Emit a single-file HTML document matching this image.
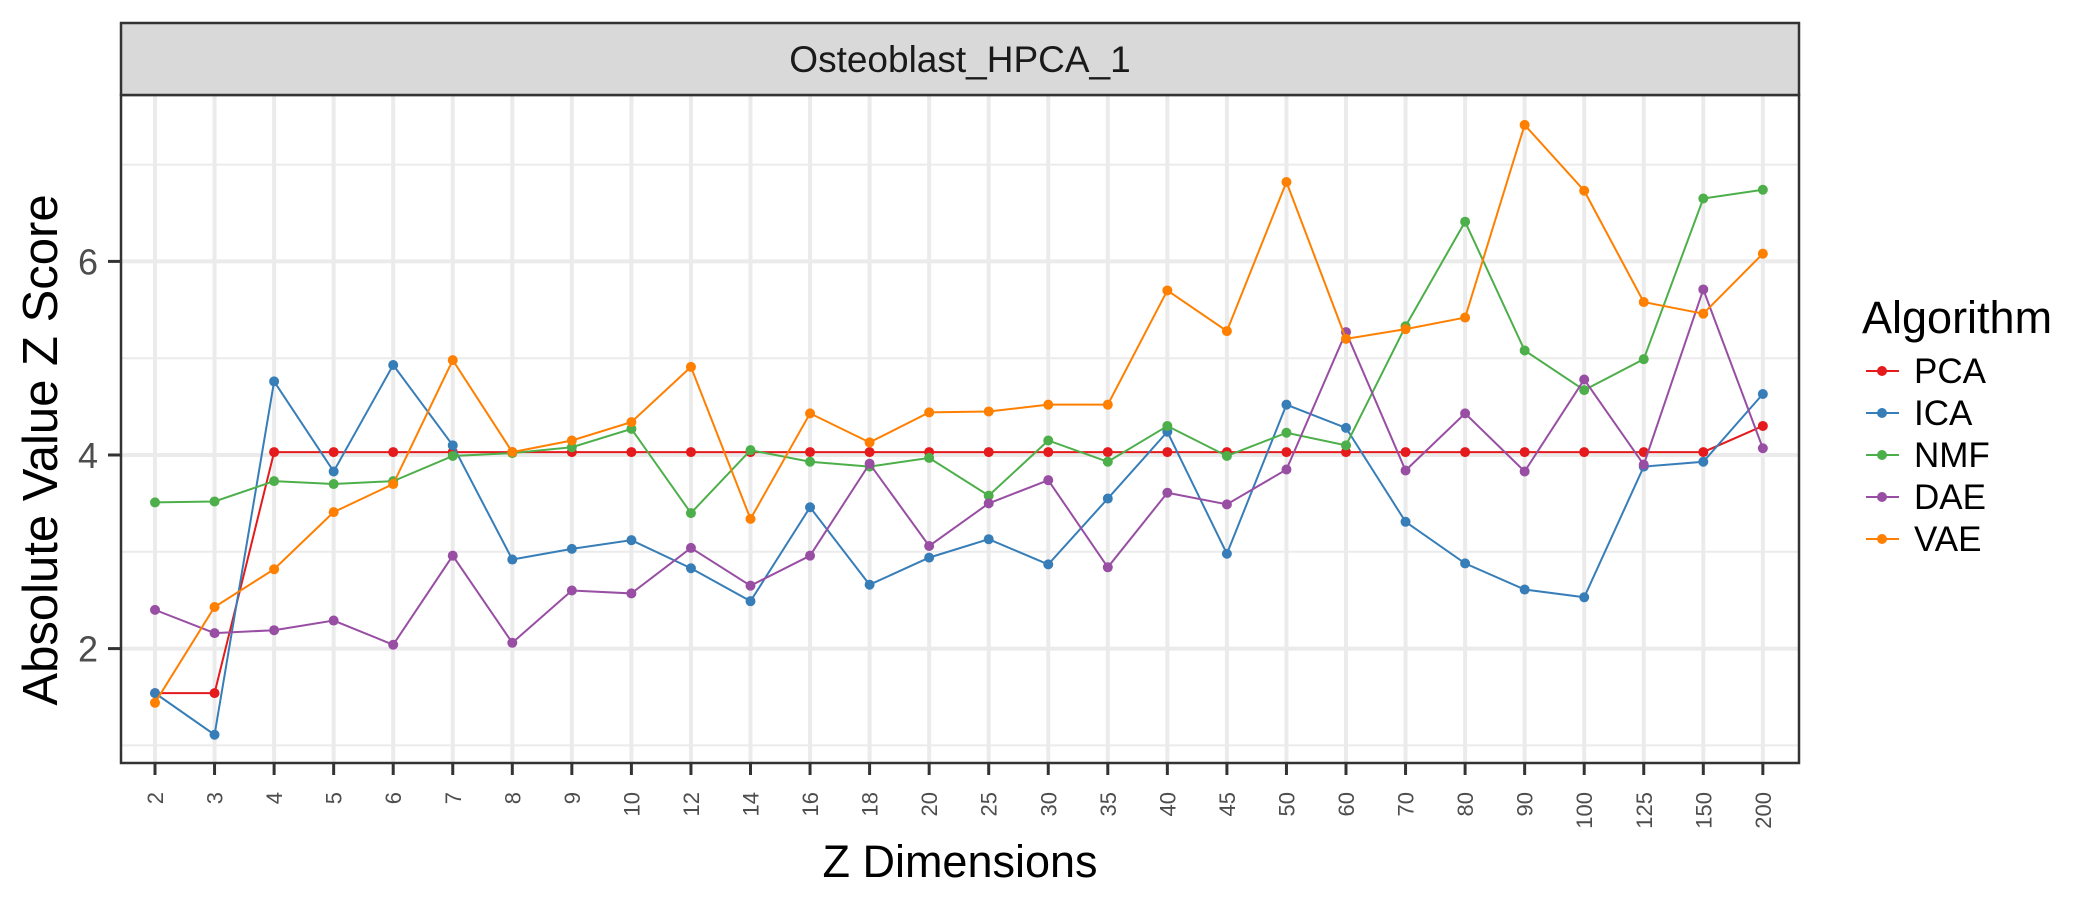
<!DOCTYPE html>
<html><head><meta charset="utf-8"><style>
html,body{margin:0;padding:0;background:#fff;}
svg{display:block;font-family:"Liberation Sans",Arial,sans-serif;}
</style></head><body>
<svg id="chart" width="2100" height="900" viewBox="0 0 2100 900" xmlns="http://www.w3.org/2000/svg">
<rect x="0" y="0" width="2100" height="900" fill="#fff"/>
<g id="grid"></g>
<g id="series"></g>
<rect x="121" y="95" width="1678" height="668" fill="none" stroke="#333" stroke-width="2.5"/>
<rect x="121" y="23" width="1678" height="72" fill="#d9d9d9" stroke="#333" stroke-width="2.5"/>
<text x="960" y="72" text-anchor="middle" font-size="37" fill="#1a1a1a">Osteoblast_HPCA_1</text>
<g id="axes"></g>
<text transform="translate(57,450) rotate(-90)" text-anchor="middle" font-size="49" fill="#000">Absolute Value Z Score</text>
<text x="960" y="877" text-anchor="middle" font-size="45" fill="#000">Z Dimensions</text>
<g id="legend">
<text x="1862" y="333" font-size="45" fill="#000">Algorithm</text>
</g>
</svg>
<script>
const categories = ["2","3","4","5","6","7","8","9","10","12","14","16","18","20","25","30","35","40","45","50","60","70","80","90","100","125","150","200"];
const seriesNames = ["PCA","ICA","NMF","DAE","VAE"];
const seriesColors = ["#e41a1c","#377eb8","#4daf4a","#984ea3","#ff7f00"];
const pcaValues = [1.54,1.54,4.03,4.03,4.03,4.03,4.03,4.03,4.03,4.03,4.03,4.03,4.03,4.03,4.03,4.03,4.03,4.03,4.03,4.03,4.03,4.03,4.03,4.03,4.03,4.03,4.03,4.3];
const icaValues = [1.54,1.11,4.76,3.83,4.93,4.1,2.92,3.03,3.12,2.83,2.49,3.46,2.66,2.94,3.13,2.87,3.55,4.24,2.98,4.52,4.28,3.31,2.88,2.61,2.53,3.88,3.93,4.63];
const nmfValues = [3.51,3.52,3.73,3.7,3.73,3.99,4.02,4.08,4.27,3.4,4.05,3.93,3.88,3.97,3.58,4.15,3.93,4.3,3.99,4.23,4.1,5.33,6.41,5.08,4.67,4.99,6.65,6.74];
const daeValues = [2.4,2.16,2.19,2.29,2.04,2.96,2.06,2.6,2.57,3.04,2.65,2.96,3.91,3.06,3.5,3.74,2.84,3.61,3.49,3.85,5.27,3.84,4.43,3.83,4.78,3.9,5.71,4.07];
const vaeValues = [1.44,2.43,2.82,3.41,3.7,4.98,4.03,4.15,4.34,4.91,3.34,4.43,4.13,4.44,4.45,4.52,4.52,5.7,5.28,6.82,5.2,5.3,5.42,7.41,6.73,5.58,5.46,6.08];
const yMajorTicks = [2,4,6];
const yMinorTicks = [1,3,5,7];

const NS = "http://www.w3.org/2000/svg";
const PL = 121, PR = 1799, PT = 95, PB = 763;
function xPos(i){ return 155 + i * 59.55; }
function yPos(v){ return 455 - (v - 4) * 96.8; }
function mk(tag, attrs, parent){
  const e = document.createElementNS(NS, tag);
  for (const k in attrs) e.setAttribute(k, attrs[k]);
  parent.appendChild(e);
  return e;
}
const grid = document.getElementById('grid');
const axes = document.getElementById('axes');
const seriesG = document.getElementById('series');
const legend = document.getElementById('legend');

yMinorTicks.forEach(v => {
  const l = mk('line', {x1:PL, x2:PR, y1:yPos(v), y2:yPos(v), stroke:'#ebebeb', 'stroke-width':2}, grid);
  
  
});
yMajorTicks.forEach(v => {
  const l = mk('line', {x1:PL, x2:PR, y1:yPos(v), y2:yPos(v), stroke:'#ebebeb', 'stroke-width':4}, grid);
  
  
  const t = mk('line', {x1:108, x2:PL, y1:yPos(v), y2:yPos(v), stroke:'#333', 'stroke-width':3}, axes);
  
  
  const tx = mk('text', {x:98, y:yPos(v)+13, 'text-anchor':'end', 'font-size':36, fill:'#4d4d4d'}, axes);
  tx.textContent = v;
  
  
});
categories.forEach((c, i) => {
  const x = xPos(i);
  const l = mk('line', {x1:x, x2:x, y1:PT, y2:PB, stroke:'#ebebeb', 'stroke-width':4}, grid);
  
  
  const t = mk('line', {x1:x, x2:x, y1:PB, y2:PB+12, stroke:'#333', 'stroke-width':3}, axes);
  
  
  const tx = mk('text', {transform:'translate(' + (x+8) + ',792) rotate(-90)', 'text-anchor':'end', 'font-size':22, fill:'#4d4d4d'}, axes);
  tx.textContent = c;
  
  
});

const allValues = [pcaValues, icaValues, nmfValues, daeValues, vaeValues];
allValues.forEach((vals, s) => {
  const g = mk('g', {}, seriesG);
  
  
  const pts = vals.map((v, i) => xPos(i) + ',' + yPos(v)).join(' ');
  const pl = mk('polyline', {points:pts, fill:'none', stroke:seriesColors[s], 'stroke-width':2}, g);
  
  
  vals.forEach((v, i) => {
    const c = mk('circle', {cx:xPos(i), cy:yPos(v), r:5, fill:seriesColors[s]}, g);
    
    
  });
});

seriesNames.forEach((n, s) => {
  const cy = 371 + s * 42;
  const g = mk('g', {}, legend);
  
  
  mk('line', {x1:1866, x2:1899, y1:cy, y2:cy, stroke:seriesColors[s], 'stroke-width':2}, g);
  mk('circle', {cx:1882, cy:cy, r:5, fill:seriesColors[s]}, g);
  const t = mk('text', {x:1914, y:cy+12, 'font-size':35, fill:'#000'}, g);
  t.textContent = n;
  
  
});
</script>
</body></html>
